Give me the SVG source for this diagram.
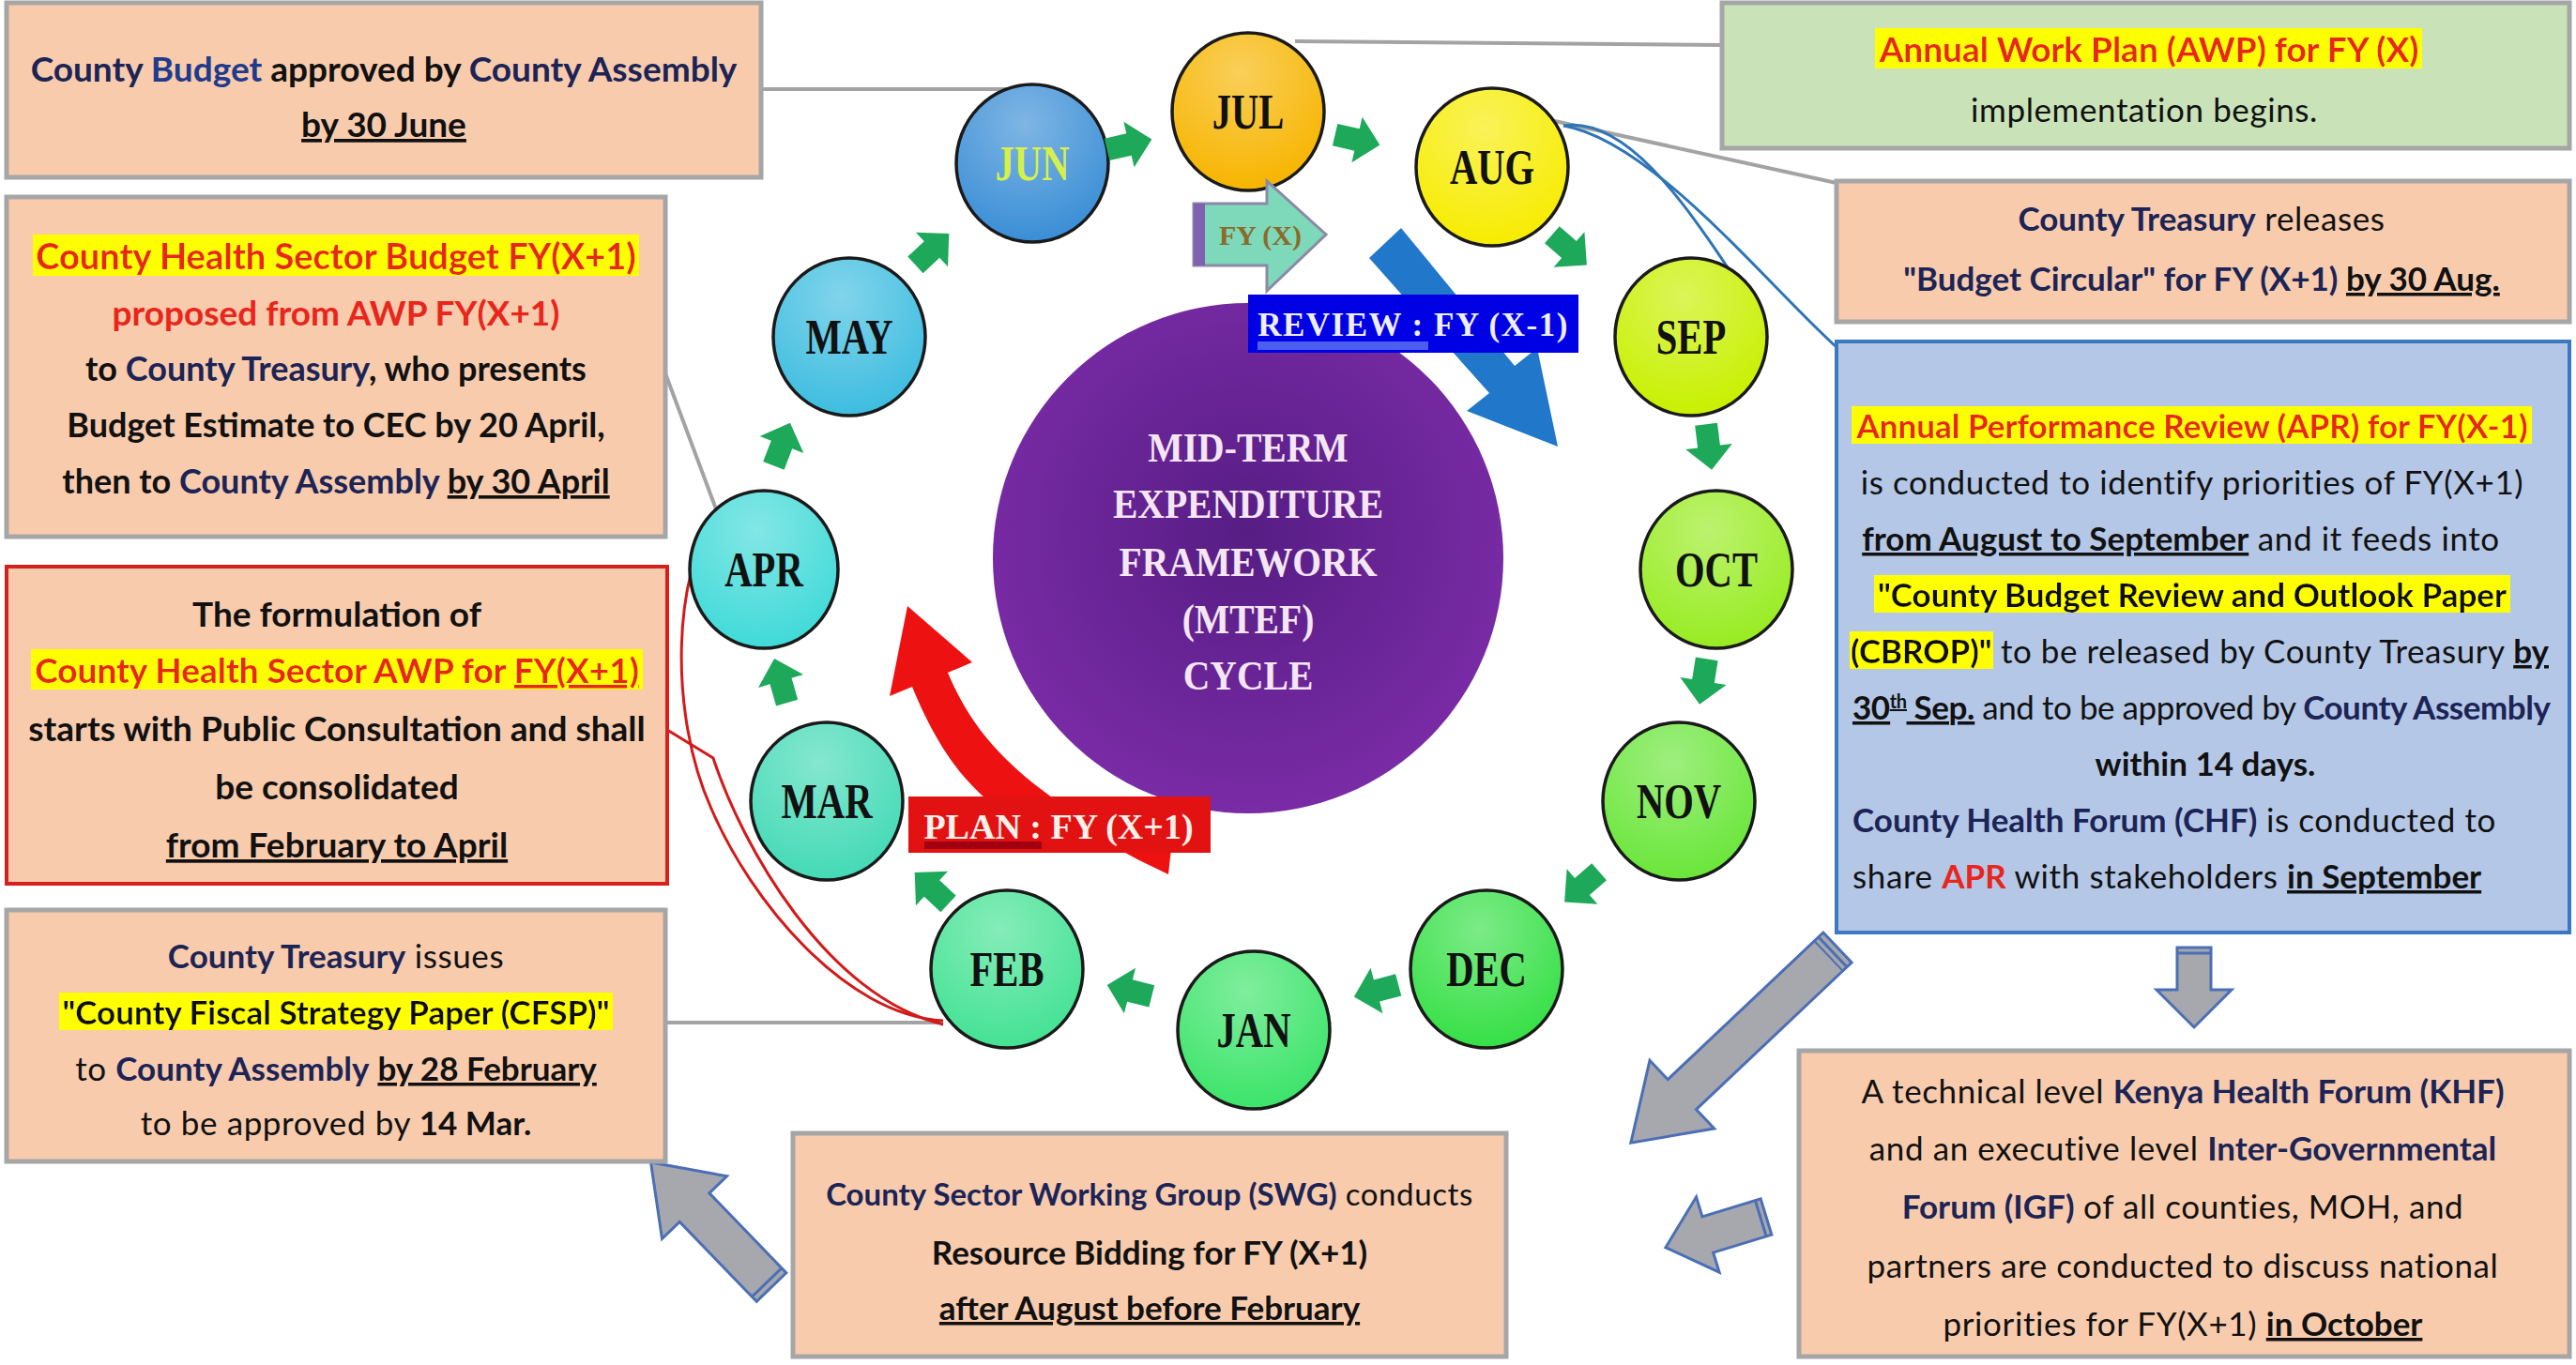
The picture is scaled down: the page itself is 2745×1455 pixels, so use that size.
<svg xmlns="http://www.w3.org/2000/svg" width="2745" height="1455" viewBox="0 0 2745 1455">
<defs>
<style>
.box{fill:#f8cbad;stroke:#a6a6a6;stroke-width:5}
.t{font-family:Lato,"Open Sans",sans-serif;font-size:35px;fill:#111;text-anchor:middle}
.st{text-anchor:start}
.b{font-weight:700}
.r{font-weight:400;letter-spacing:0.6px}
.nv{fill:#1c2456}
.rd{fill:#e8261c}
.u{text-decoration:underline}
.mon{font-family:"Liberation Serif",serif;font-weight:700;font-size:52px;text-anchor:middle;fill:#111}
.ser{font-family:"Liberation Serif",serif;font-weight:700}
.gl{fill:none;stroke:#a3a3a3;stroke-width:4}
.rl{fill:none;stroke:#d21a1a;stroke-width:3}
.bl{fill:none;stroke:#2e75b6;stroke-width:3}
.ga{fill:#1ea85a}
.bigar{fill:#a7a7ae;stroke:#4a6fb5;stroke-width:3}
.ring{stroke:#1a1a1a;stroke-width:3.5}
</style>
<filter id="hl" x="-0.005" y="0.03" width="1.01" height="0.94"><feFlood flood-color="#ffff00"/><feComposite in="SourceGraphic" operator="over"/></filter>
<radialGradient id="sh" cx="0.45" cy="0.25" r="0.75"><stop offset="0" stop-color="#fff" stop-opacity="0.35"/><stop offset="1" stop-color="#fff" stop-opacity="0"/></radialGradient>
<radialGradient id="pur" cx="0.5" cy="0.45" r="0.55"><stop offset="0" stop-color="#561d84"/><stop offset="1" stop-color="#7a2ba6"/></radialGradient>
<path id="gar" class="ga" d="M-24,-12 L0,-12 L0,-25 L25,0 L0,25 L0,12 L-24,12 Z"/>
</defs>

<g id="connectors">
<line class="gl" x1="811" y1="95" x2="1095" y2="95"/>
<line class="gl" x1="1380" y1="44" x2="1835" y2="48"/>
<line class="gl" x1="1652" y1="128" x2="1957" y2="195"/>
<line class="gl" x1="709" y1="398" x2="768" y2="556"/>
<line class="gl" x1="709" y1="1090" x2="1005" y2="1090"/>
<path class="rl" d="M762,552 C718,610 712,760 758,862 C800,960 900,1082 1005,1088"/>
<path class="rl" d="M711,778 L760,808 C790,900 880,1062 1005,1092"/>
<path class="bl" d="M1666,134 C1730,124 1792,210 1852,302"/>
<path class="bl" d="M1666,134 C1760,150 1880,300 1957,370"/>
</g>

<g id="flow-arrows">
<g transform="translate(1958,1010) rotate(136.6)"><path class="bigar" d="M0,-22 L228,-22 L228,-50 L303,0 L228,50 L228,22 L0,22 Z"/><line x1="7" y1="-22" x2="7" y2="22" stroke="#4a6fb5" stroke-width="3"/><line x1="13" y1="-22" x2="13" y2="22" stroke="#4a6fb5" stroke-width="2"/></g>
<g transform="translate(2338,1010) rotate(90)"><path class="bigar" d="M0,-18 L45,-18 L45,-40 L85,0 L45,40 L45,18 L0,18 Z"/><line x1="6" y1="-18" x2="6" y2="18" stroke="#4a6fb5" stroke-width="3"/></g>
<g transform="translate(1882,1297) rotate(163)"><path class="bigar" d="M0,-20 L65,-20 L65,-42 L112,0 L65,42 L65,20 L0,20 Z"/><line x1="6" y1="-20" x2="6" y2="20" stroke="#4a6fb5" stroke-width="3"/></g>
<g transform="translate(822,1372) rotate(226)"><path class="bigar" d="M0,-22 L118,-22 L118,-48 L185,0 L118,48 L118,22 L0,22 Z"/><line x1="7" y1="-22" x2="7" y2="22" stroke="#4a6fb5" stroke-width="3"/></g>
</g>

<g id="box-budget-approved">
<rect class="box" x="7" y="3" width="804" height="186"/>
<text class="t b" x="409" y="87" style="font-size:37px"><tspan class="nv">County </tspan><tspan fill="#203a8c">Budget </tspan>approved by <tspan class="nv">County Assembly</tspan></text>
<text class="t b u" x="409" y="146" style="font-size:37px">by 30 June</text>
</g>

<g id="box-health-budget" style="font-size:37px">
<rect class="box" x="7" y="210" width="702" height="362"/>
<text class="t b rd" x="358" y="287" style="font-size:38px" filter="url(#hl)">County Health Sector Budget FY(X+1)</text>
<text class="t b rd" x="358" y="347" style="font-size:37px">proposed from AWP FY(X+1)</text>
<text class="t b" x="358" y="406" style="font-size:36px">to <tspan class="nv">County Treasury</tspan>, who presents</text>
<text class="t b" x="358" y="466" style="font-size:36px">Budget Estimate to CEC by 20 April,</text>
<text class="t b" x="358" y="526" style="font-size:36px">then to <tspan class="nv">County Assembly</tspan> <tspan class="u">by 30 April</tspan></text>
</g>

<g id="box-awp-formulation">
<rect class="box" x="7" y="604" width="704" height="338" style="stroke:#d62020;stroke-width:4"/>
<text class="t b" x="359" y="668" style="font-size:37px">The formulation of</text>
<text class="t b rd" x="359" y="728" style="font-size:37px" filter="url(#hl)">County Health Sector AWP for <tspan class="u">FY(X+1)</tspan></text>
<text class="t b" x="359" y="790" style="font-size:37px">starts with Public Consultation and shall</text>
<text class="t b" x="359" y="852" style="font-size:37px">be consolidated</text>
<text class="t b u" x="359" y="914" style="font-size:37px">from February to April</text>
</g>

<g id="box-cfsp">
<rect class="box" x="7" y="970" width="702" height="268"/>
<text class="t" x="358" y="1032"><tspan class="b nv">County Treasury</tspan><tspan class="r"> issues</tspan></text>
<text class="t b" x="358" y="1092" fill="#1a2a10" filter="url(#hl)">"County Fiscal Strategy Paper (CFSP)"</text>
<text class="t" x="358" y="1152"><tspan class="r">to </tspan><tspan class="b nv">County Assembly</tspan> <tspan class="b u">by 28 February</tspan></text>
<text class="t" x="358" y="1210"><tspan class="r">to be approved  by </tspan><tspan class="b">14 Mar.</tspan></text>
</g>

<g id="box-swg">
<rect class="box" x="845" y="1208" width="760" height="238"/>
<text class="t" x="1225" y="1285" style="font-size:33px"><tspan class="b nv">County Sector Working Group (SWG)</tspan><tspan class="r"> conducts</tspan></text>
<text class="t b" x="1225" y="1348">Resource Bidding for FY (X+1)</text>
<text class="t b u" x="1225" y="1407">after August before February</text>
</g>

<g id="box-awp-implementation">
<rect class="box" x="1835" y="3" width="903" height="155" style="fill:#c9e2b8"/>
<text class="t b rd" x="2290" y="66" style="font-size:37px" filter="url(#hl)">Annual Work Plan (AWP) for FY (X)</text>
<text class="t r" x="2285" y="130">implementation  begins.</text>
</g>

<g id="box-budget-circular">
<rect class="box" x="1957" y="193" width="781" height="150"/>
<text class="t" x="2346" y="246"><tspan class="b nv">County Treasury</tspan><tspan class="r"> releases</tspan></text>
<text class="t b" x="2346" y="310"><tspan class="nv">"Budget Circular" for FY (X+1) </tspan><tspan class="u">by 30 Aug.</tspan></text>
</g>

<g id="box-apr">
<rect x="1957" y="364" width="781" height="630" style="fill:#b4c7e7;stroke:#3a78c0;stroke-width:4"/>
<text class="t b rd" x="2336" y="467" filter="url(#hl)">Annual Performance Review (APR) for FY(X-1)</text>
<text class="t r" x="2336" y="527">is conducted to identify priorities of FY(X+1)</text>
<text class="t" x="2324" y="587"><tspan class="b u">from August to September</tspan><tspan class="r"> and it feeds into</tspan></text>
<text class="t b" x="2336" y="647" fill="#1a2a10" filter="url(#hl)">"County Budget Review and Outlook Paper</text>
<text class="t b st" x="1972" y="707" fill="#1a2a10" filter="url(#hl)">(CBROP)"</text>
<text class="t st" x="2132" y="707" textLength="584"><tspan class="r">to be released by County Treasury </tspan><tspan class="b u">by</tspan></text>
<text class="t st" x="1974" y="767" textLength="744"><tspan class="b u">30<tspan baseline-shift="super" style="font-size:20px">th</tspan> Sep.</tspan><tspan class="r" style="letter-spacing:0"> and to be approved by </tspan><tspan class="b nv">County Assembly</tspan></text>
<text class="t b" x="2350" y="827">within 14 days.</text>
<text class="t st" x="1974" y="887"><tspan class="b nv">County Health Forum (CHF)</tspan><tspan class="r"> is conducted to</tspan></text>
<text class="t st" x="1974" y="947"><tspan class="r">share </tspan><tspan class="b rd">APR</tspan><tspan class="r"> with stakeholders  </tspan><tspan class="b u">in September</tspan></text>
</g>

<g id="box-khf">
<rect class="box" x="1917" y="1120" width="821" height="326"/>
<text class="t" x="2326" y="1176"><tspan class="r">A technical level </tspan><tspan class="b nv">Kenya Health Forum (KHF)</tspan></text>
<text class="t" x="2326" y="1237"><tspan class="r">and an executive level </tspan><tspan class="b nv">Inter-Governmental</tspan></text>
<text class="t" x="2326" y="1299"><tspan class="b nv">Forum (IGF)</tspan><tspan class="r"> of all counties, MOH, and</tspan></text>
<text class="t r" x="2326" y="1362">partners are conducted to discuss national</text>
<text class="t" x="2326" y="1424"><tspan class="r">priorities for FY(X+1) </tspan><tspan class="b u">in October</tspan></text>
</g>

<g id="mtef-center">
<circle cx="1330" cy="595" r="272" fill="url(#pur)"/>
<g class="ser" fill="#f4e6f4" font-size="44" text-anchor="middle">
<text transform="translate(1330,492) scale(0.9,1)">MID-TERM</text>
<text transform="translate(1330,552) scale(0.9,1)">EXPENDITURE</text>
<text transform="translate(1330,614) scale(0.9,1)">FRAMEWORK</text>
<text transform="translate(1330,675) scale(0.9,1)">(MTEF)</text>
<text transform="translate(1330,735) scale(0.9,1)">CYCLE</text>
</g>
</g>

<g id="plan-arrow">
<path d="M967,646 L1036,706 L1010,717 C1040,790 1090,830 1150,870 L1075,870 C1030,840 1000,800 972,732 L948,742 Z" fill="#ee1111"/>
<path d="M1192,905 L1248,905 L1245,932 L1212,916 Z" fill="#ee1111"/>
</g>

<g id="months">
<g id="m-jul"><ellipse cx="1330" cy="119" rx="81" ry="84" fill="#f7b500"/><ellipse class="ring" cx="1330" cy="119" rx="81" ry="84" fill="url(#sh)"/><text class="mon" transform="translate(1330,137) scale(0.78,1)">JUL</text></g>
<g id="m-aug"><ellipse cx="1590" cy="178" rx="81" ry="84" fill="#f7ec00"/><ellipse class="ring" cx="1590" cy="178" rx="81" ry="84" fill="url(#sh)"/><text class="mon" transform="translate(1590,196) scale(0.78,1)">AUG</text></g>
<g id="m-sep"><ellipse cx="1802" cy="359" rx="81" ry="84" fill="#c8f000"/><ellipse class="ring" cx="1802" cy="359" rx="81" ry="84" fill="url(#sh)"/><text class="mon" transform="translate(1802,377) scale(0.78,1)">SEP</text></g>
<g id="m-oct"><ellipse cx="1829" cy="607" rx="81" ry="84" fill="#98ec22"/><ellipse class="ring" cx="1829" cy="607" rx="81" ry="84" fill="url(#sh)"/><text class="mon" transform="translate(1829,625) scale(0.78,1)">OCT</text></g>
<g id="m-nov"><ellipse cx="1789" cy="854" rx="81" ry="84" fill="#6ae63a"/><ellipse class="ring" cx="1789" cy="854" rx="81" ry="84" fill="url(#sh)"/><text class="mon" transform="translate(1789,872) scale(0.78,1)">NOV</text></g>
<g id="m-dec"><ellipse cx="1584" cy="1033" rx="81" ry="84" fill="#36e046"/><ellipse class="ring" cx="1584" cy="1033" rx="81" ry="84" fill="url(#sh)"/><text class="mon" transform="translate(1584,1051) scale(0.78,1)">DEC</text></g>
<g id="m-jan"><ellipse cx="1336" cy="1098" rx="81" ry="84" fill="#3ce46a"/><ellipse class="ring" cx="1336" cy="1098" rx="81" ry="84" fill="url(#sh)"/><text class="mon" transform="translate(1336,1116) scale(0.78,1)">JAN</text></g>
<g id="m-feb"><ellipse cx="1073" cy="1033" rx="81" ry="84" fill="#44e294"/><ellipse class="ring" cx="1073" cy="1033" rx="81" ry="84" fill="url(#sh)"/><text class="mon" transform="translate(1073,1051) scale(0.78,1)">FEB</text></g>
<g id="m-mar"><ellipse cx="881" cy="854" rx="81" ry="84" fill="#44dab6"/><ellipse class="ring" cx="881" cy="854" rx="81" ry="84" fill="url(#sh)"/><text class="mon" transform="translate(881,872) scale(0.78,1)">MAR</text></g>
<g id="m-apr"><ellipse cx="814" cy="607" rx="79" ry="84" fill="#40dad8"/><ellipse class="ring" cx="814" cy="607" rx="79" ry="84" fill="url(#sh)"/><text class="mon" transform="translate(814,625) scale(0.78,1)">APR</text></g>
<g id="m-may"><ellipse cx="905" cy="359" rx="81" ry="84" fill="#3ebde0"/><ellipse class="ring" cx="905" cy="359" rx="81" ry="84" fill="url(#sh)"/><text class="mon" transform="translate(905,377) scale(0.78,1)">MAY</text></g>
<g id="m-jun"><ellipse cx="1100" cy="174" rx="81" ry="84" fill="#3a8ed6"/><ellipse class="ring" cx="1100" cy="174" rx="81" ry="84" fill="url(#sh)"/><text class="mon" transform="translate(1100,192) scale(0.78,1)" style="fill:#d6f04a">JUN</text></g>
</g>

<g id="cycle-arrows">
<use href="#gar" transform="translate(1203,154) rotate(-13)"/>
<use href="#gar" transform="translate(1446,149) rotate(13)"/>
<use href="#gar" transform="translate(1672,266) rotate(41)"/>
<use href="#gar" transform="translate(1821,476) rotate(83)"/>
<use href="#gar" transform="translate(1815,726) rotate(99)"/>
<use href="#gar" transform="translate(1686,945) rotate(139)"/>
<use href="#gar" transform="translate(1467,1056) rotate(165)"/>
<use href="#gar" transform="translate(1204,1056) rotate(194)"/>
<use href="#gar" transform="translate(993,947) rotate(223)"/>
<use href="#gar" transform="translate(832,726) rotate(254)"/>
<use href="#gar" transform="translate(833,474) rotate(291)"/>
<use href="#gar" transform="translate(993,266) rotate(317)"/>
</g>

<g id="fy-x">
<path d="M1272,217 L1350,217 L1350,193 L1413,250 L1350,310 L1350,283 L1272,283 Z" fill="#7ed8ba" stroke="#8a8aa8" stroke-width="3"/>
<rect x="1272" y="217" width="12" height="66" fill="#8060b0"/>
<text class="ser" x="1343" y="261" font-size="30" text-anchor="middle" fill="#8b6a2b">FY (X)</text>
</g>

<g id="review-arrow">
<path d="M1493,243 L1614,390 L1638,371 L1660,476 L1563,438 L1587,419 L1459,275 Z" fill="#2177c9"/>
</g>

<g id="review-label">
<rect x="1330" y="314" width="352" height="62" fill="#0000e4"/>
<rect x="1340" y="364" width="182" height="9" fill="#4a5ef0"/>
<text class="ser" x="1506" y="358" font-size="35" text-anchor="middle" fill="#eeeeff" letter-spacing="1.5">REVIEW : FY (X-1)</text>
</g>

<g id="plan-label">
<rect x="968" y="849" width="322" height="60" fill="#e31212"/>
<rect x="985" y="897" width="125" height="8" fill="#a00010"/>
<text class="ser" x="1128" y="894" font-size="38" text-anchor="middle" fill="#fff0ea">PLAN : FY (X+1)</text>
</g>
</svg>
